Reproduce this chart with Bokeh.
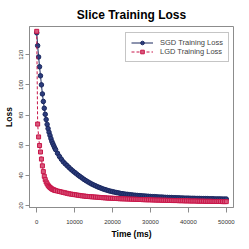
from bokeh.plotting import figure
from bokeh.models import Range1d, FixedTicker, Legend, LegendItem
from bokeh.embed import file_html
from bokeh.resources import INLINE

# sample times (ms)
time_ms = list(range(0, 5001, 250)) + list(range(5500, 50001, 500))

sgd_loss = [
    134.5, 126.0, 118.5, 112.0, 106.0, 100.0, 94.0, 89.0, 84.5, 80.5,
    77.0, 73.8, 71.0, 68.6, 66.5, 64.4, 62.5, 61.0, 59.6, 58.2, 57.0,
    54.6, 52.5, 50.7, 49.0, 47.7, 46.5, 45.3, 44.1, 43.0, 42.0,
    41.0, 40.0, 39.1, 38.2, 37.3, 36.5, 35.7, 35.0, 34.3, 33.7,
    33.1, 32.5, 32.0, 31.5, 31.0, 30.6, 30.2, 29.8, 29.5, 29.2,
    28.9, 28.6, 28.4, 28.1, 27.9, 27.7, 27.5, 27.4, 27.2, 27.1,
    26.9, 26.8, 26.7, 26.6, 26.5, 26.4, 26.3, 26.2, 26.1, 26.0,
    25.9, 25.9, 25.8, 25.7, 25.6, 25.6, 25.5, 25.4, 25.4, 25.3,
    25.3, 25.2, 25.2, 25.1, 25.1, 25.0, 25.0, 24.9, 24.9, 24.9,
    24.8, 24.8, 24.8, 24.7, 24.7, 24.7, 24.6, 24.6, 24.6, 24.6,
    24.5, 24.5, 24.5, 24.4, 24.4, 24.4, 24.4, 24.3, 24.3, 24.3,
]

lgd_loss = [
    135.5, 74.0, 65.5, 59.8, 55.5, 50.8, 46.3, 42.5, 39.4, 37.2,
    35.6, 34.4, 33.4, 32.6, 32.0, 31.5, 31.0, 30.7, 30.4, 30.1, 29.9,
    29.6, 29.3, 29.0, 28.7, 28.4, 28.1, 27.8, 27.6, 27.4, 27.2,
    27.0, 26.8, 26.6, 26.4, 26.3, 26.1, 26.0, 25.9, 25.8, 25.7,
    25.6, 25.5, 25.4, 25.3, 25.2, 25.1, 25.0, 24.9, 24.9, 24.8,
    24.7, 24.7, 24.6, 24.5, 24.5, 24.4, 24.4, 24.3, 24.3, 24.2,
    24.2, 24.1, 24.1, 24.0, 24.0, 23.9, 23.9, 23.8, 23.8, 23.8,
    23.7, 23.7, 23.6, 23.6, 23.6, 23.5, 23.5, 23.5, 23.4, 23.4,
    23.4, 23.3, 23.3, 23.3, 23.2, 23.2, 23.2, 23.1, 23.1, 23.1,
    23.0, 23.0, 23.0, 23.0, 22.9, 22.9, 22.9, 22.9, 22.8, 22.8,
    22.8, 22.8, 22.7, 22.7, 22.7, 22.7, 22.7, 22.6, 22.6, 22.6,
]

x_ticks = [0, 10000, 20000, 30000, 40000, 50000]
y_ticks = [20, 40, 60, 80, 100, 120, 140]

title_text = "Slice Training Loss"
x_label = "Time (ms)"
y_label = "Loss"
sgd_name = "SGD Training Loss"
lgd_name = "LGD Training Loss"

BLUE = "#1a285f"
RED = "#c8174a"
GREY = "#8c8c8c"
FONT = "Liberation Sans"

p = figure(width=241, height=241, output_backend="svg", toolbar_location=None,
           x_range=Range1d(-1900, 51900), y_range=Range1d(18.7, 138.7),
           min_border_left=21, min_border_right=8, min_border_top=21, min_border_bottom=30)

p.title.text = title_text
p.title.text_font = FONT
p.title.text_font_size = "12px"
p.title.text_font_style = "bold"
p.title.align = "center"
p.title.text_color = "black"

p.grid.visible = False
p.outline_line_color = GREY
p.outline_line_width = 1
p.background_fill_color = "white"
p.border_fill_color = "white"

for ax in (p.xaxis[0], p.yaxis[0]):
    ax.axis_line_color = GREY
    ax.major_tick_line_color = GREY
    ax.minor_tick_line_color = None
    ax.major_tick_in = 0
    ax.major_tick_out = 4
    ax.major_label_text_font = FONT
    ax.major_label_text_font_size = "6px"
    ax.major_label_text_color = "#333333"
    ax.axis_label_text_font = FONT
    ax.axis_label_text_font_size = "8.5px"
    ax.axis_label_text_font_style = "bold"
    ax.axis_label_text_color = "black"
    ax.major_label_standoff = 2
    ax.axis_label_standoff = 3

p.xaxis.major_tick_out = 5
p.xaxis.major_label_standoff = 7
p.xaxis.axis_label_standoff = 2
p.xaxis.ticker = FixedTicker(ticks=x_ticks)
p.yaxis.ticker = FixedTicker(ticks=y_ticks)
p.xaxis.axis_label = x_label
p.yaxis.axis_label = y_label
p.yaxis.major_label_orientation = "vertical"
p.xaxis.formatter.use_scientific = False

l1 = p.line(time_ms, sgd_loss, line_color=BLUE, line_width=1)
s1 = p.scatter(time_ms, sgd_loss, marker="circle", size=4.5, line_color=BLUE,
               fill_color="#2c3c7c", line_width=1)
l2 = p.line(time_ms, lgd_loss, line_color=RED, line_width=1, line_dash="3 2")
s2 = p.scatter(time_ms, lgd_loss, marker="square", size=4, line_color=RED,
               fill_color="#d9597d", line_width=1)

legend = Legend(items=[LegendItem(label=sgd_name, renderers=[l1, s1]),
                       LegendItem(label=lgd_name, renderers=[l2, s2])],
                location=(96, 145))
legend.label_text_font = FONT
legend.label_text_font_size = "7.5px"
legend.label_height = 9
legend.glyph_height = 9
legend.glyph_width = 22
legend.spacing = 0
legend.padding = 5
legend.margin = 0
legend.label_standoff = 7
legend.border_line_color = GREY
legend.border_line_width = 1
legend.background_fill_alpha = 1
p.add_layout(legend)

open("out.html", "w").write(file_html(p, INLINE))
